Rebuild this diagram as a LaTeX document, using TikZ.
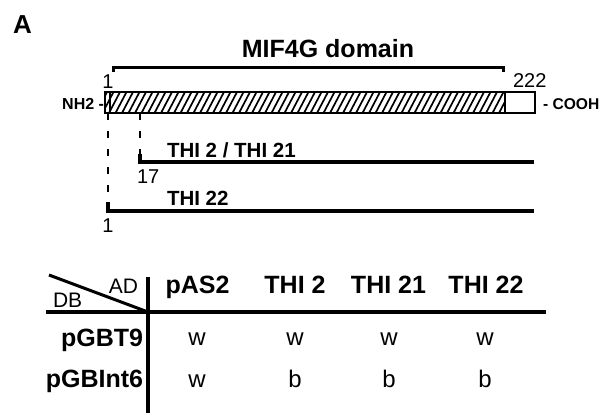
\documentclass[tikz,border=0pt]{standalone}
\usepackage{fontspec}
\setmainfont{Liberation Sans}
\usetikzlibrary{calc}
\begin{document}
\begin{tikzpicture}[x=1pt,y=-1pt,
  txt/.style={inner sep=0pt, outer sep=0pt},
  bigb/.style={txt, font=\fontsize{25}{25}\selectfont\bfseries},
  midb/.style={txt, font=\fontsize{20.5}{20.5}\selectfont\bfseries},
  smallb/.style={txt, font=\fontsize{16}{16}\selectfont\bfseries},
  num/.style={txt, font=\fontsize{20}{20}\selectfont},
  cell/.style={txt, font=\fontsize{24}{24}\selectfont, anchor=base},
  thick line/.style={line width=3.4pt},
  dashline/.style={line width=2.4pt, dash pattern=on 7pt off 11pt},
]
\useasboundingbox (0,0) rectangle (601,413);

% Panel letter
\node[txt, font=\fontsize{26}{26}\selectfont\bfseries, anchor=base west] (A) at (13,33) {A};

% Domain bracket
\node[bigb, anchor=base] (dom) at (328,57) {MIF4G domain};
\coordinate (bl) at (113,72);
\coordinate (br) at (503,72);
\draw[line width=3pt] (bl) -- ++(0,-5) -| (br);

\node[num, anchor=base] (n1) at (108,88) {1};
\node[num, anchor=base west] (n222) at (513,87) {222};

% Protein bar
\node[smallb, anchor=base east] (nh2) at (104,109) {NH2 -};
\node[smallb, anchor=base west, font=\fontsize{15.6}{15.6}\selectfont\bfseries] (cooh) at (543,109) {- COOH};
\begin{scope}
  \clip (105,92) rectangle (505,113);
  \foreach \x in {96,102.5,...,512} {
    \draw[line width=1.7pt] (\x,113) -- ++(11,-21);
  }
\end{scope}
\draw[line width=2.8pt] (105,92) rectangle (505,113);
\draw[line width=2.8pt] (505,92) rectangle (535,113);
\draw[line width=2.2pt] (110,92) -- (110,113);
\coordinate (barL) at (108,113);
\coordinate (barM) at (140,113);

% Constructs
\coordinate (t2s) at (140,162);
\coordinate (t2e) at (534,162);
\coordinate (t22s) at (108,211);
\coordinate (t22e) at (534,211);
\draw[dashline] (barL) -- (t22s);
\draw[dashline] (barM) -- (t2s);
\draw[thick line] ($(t2s)+(0,-8)$) -- (t2s) -- (t2e);
\draw[thick line] ($(t22s)+(0,-9)$) -- (t22s) -- (t22e);
\node[midb, anchor=base west] (lt2) at (167,157) {THI 2 / THI 21};
\node[num, anchor=base west] (n17) at (137,183) {17};
\node[midb, anchor=base west] (lt22) at (167,205) {THI 22};
\node[num, anchor=base] (n1b) at (108,232) {1};

% Table
\coordinate (vtop) at (148,277);
\coordinate (vbot) at (148,413);
\coordinate (hl) at (46,312);
\coordinate (hr) at (546,312);
\coordinate (dg) at (49,275);
\coordinate (cross) at (148,312);
\draw[thick line] (vtop) -- (vbot);
\draw[thick line] (hl) -- (hr);
\draw[line width=3pt] (dg) -- (cross);
\node[txt, font=\fontsize{21}{21}\selectfont, anchor=base east] (ad) at (138,293) {AD};
\node[txt, font=\fontsize{21}{21}\selectfont, anchor=base west] (db) at (53,307) {DB};

\node[bigb, anchor=base] (h1) at (197.5,293) {pAS2};
\node[bigb, anchor=base] (h2) at (295,293) {THI 2};
\node[bigb, anchor=base] (h3) at (388.5,293) {THI 21};
\node[bigb, anchor=base] (h4) at (486,293) {THI 22};

\node[bigb, anchor=base east] (r1) at (143,346) {pGBT9};
\node[bigb, anchor=base east] (r2) at (143,387) {pGBInt6};

\node[cell] (c11) at (197,345) {w};
\node[cell] (c12) at (295,345) {w};
\node[cell] (c13) at (389,345) {w};
\node[cell] (c14) at (485,345) {w};
\node[cell] (c21) at (197,387) {w};
\node[cell] (c22) at (295,387) {b};
\node[cell] (c23) at (389,387) {b};
\node[cell] (c24) at (485,387) {b};
\end{tikzpicture}
\end{document}
